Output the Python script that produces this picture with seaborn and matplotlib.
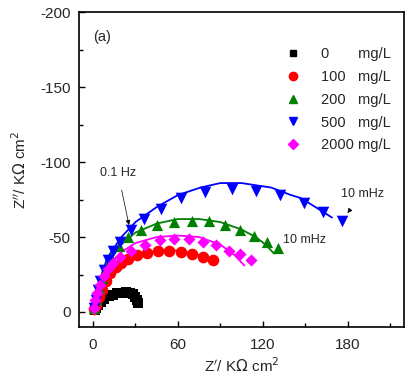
import numpy as np
import pandas as pd
import matplotlib
matplotlib.use("Agg")
import matplotlib.pyplot as plt
from matplotlib.lines import Line2D
import seaborn as sns

# measured points (Z', Z'') in kOhm cm^2
x_0 = [1, 2, 3.5, 5.5, 8, 11, 14, 17, 20, 23, 26, 28.5, 30, 31, 31.5]
y_0 = [-1, -3, -5, -7, -9, -10.5, -11.5, -12.5, -13, -13.5, -13, -12, -10, -8, -6]

x_100 = [0.5, 2, 4, 6, 9, 12, 16, 20, 25, 31, 38, 46, 54, 62, 70, 78, 85]
y_100 = [-2, -5, -10, -15, -21, -26, -30, -33, -35.5, -38, -39.5, -40.7, -41, -40, -39, -37, -35]

x_200 = [0.5, 2, 4, 6, 9, 13, 18, 25, 34, 45, 57, 70, 82, 93, 104, 114, 123, 131]
y_200 = [-3, -9, -16, -23, -30, -37, -44, -50, -55, -58, -60, -61, -61, -58, -55, -51, -47, -43]

x_500 = [0.5, 2, 3.5, 5, 7.5, 10.5, 14, 19, 27, 36, 48, 62, 79, 98, 115, 132, 149, 163, 176]
y_500 = [-3, -8, -15, -21, -28, -35, -41, -47, -55, -62, -69, -76, -80, -82, -81, -78, -73, -67, -61]

x_2000 = [0.5, 1.5, 3, 5, 7.5, 10.5, 14, 19, 27, 37, 47, 57, 68, 78, 87, 96, 104, 112]
y_2000 = [-3, -8, -13, -18, -24, -29, -33, -37, -41, -45, -48, -49, -49, -47, -45, -41, -38.5, -35]

# fitted curves
fx_100 = [0, 5, 10, 20, 30, 45, 60, 75, 82]
fy_100 = [0, -12, -21, -31, -37, -41, -41, -38, -35]
fx_200 = [0, 5, 10, 20, 30, 45, 60, 75, 90, 105, 115, 122, 128]
fy_200 = [0, -20, -32, -45, -53, -59, -62, -62, -60, -55, -50, -45, -39]
fx_500 = [0, 5, 10, 20, 30, 45, 60, 76, 90, 105, 126, 140, 147, 159, 169]
fy_500 = [0, -22, -36, -50, -60, -70, -78, -83, -86, -86, -83, -78, -76, -69, -63]
fx_2000 = [0, 5, 10, 20, 30, 45, 60, 75, 90, 100, 107]
fy_2000 = [0, -19, -30, -40, -46, -50, -51, -50, -45, -38, -31]

labels = ["0       mg/L", "100   mg/L", "200   mg/L", "500   mg/L", "2000 mg/L"]
colors = ["#000000", "#ff0000", "#008000", "#0000ff", "#ff00ff"]
markers = ["s", "o", "^", "v", "D"]
sizes = [45, 70, 65, 70, 38]

pts = [(x_0, y_0), (x_100, y_100), (x_200, y_200), (x_500, y_500), (x_2000, y_2000)]
fits = [None, (fx_100, fy_100), (fx_200, fy_200), (fx_500, fy_500), (fx_2000, fy_2000)]

sns.set_style("ticks")
plt.rcParams['font.family'] = ['Liberation Sans', 'DejaVu Sans']
plt.rcParams['axes.unicode_minus'] = False

fig = plt.figure(figsize=(4.2, 3.8), dpi=100)
ax = fig.add_axes([0.188, 0.1395, 0.774, 0.8285])

for i in range(5):
    if fits[i] is not None:
        fdf = pd.DataFrame({"x": fits[i][0], "y": fits[i][1]})
        sns.lineplot(data=fdf, x="x", y="y", sort=False, color=colors[i], lw=1.3, ax=ax, legend=False)
    df = pd.DataFrame({"x": pts[i][0], "y": pts[i][1]})
    sns.scatterplot(data=df, x="x", y="y", color=colors[i], marker=markers[i], s=sizes[i],
                    linewidth=0, ax=ax, legend=False, zorder=3)

ax.set_xlim(-10, 220)
ax.set_ylim(10, -200)
ax.set_xticks([0, 60, 120, 180])
ax.set_xticks([30, 90, 150, 210], minor=True)
ax.set_yticks([0, -50, -100, -150, -200])
ax.set_yticks([-25, -75, -125, -175], minor=True)
ax.tick_params(which="both", direction="in", labelsize=11, width=1, color="black")
ax.tick_params(which="major", length=4)
ax.tick_params(which="minor", length=3)
ax.tick_params(axis="x", pad=8)
ax.tick_params(axis="y", pad=6)
for s in ax.spines.values():
    s.set_visible(True)
    s.set_linewidth(1.2)
    s.set_color("black")

ax.set_xlabel(r"Z$'$/ K$\Omega$ cm$^2$", fontsize=11, labelpad=3)
ax.set_ylabel(r"Z$''$/ K$\Omega$ cm$^2$", fontsize=11, labelpad=8)

ax.text(0.071, 0.92, "(a)", transform=ax.transAxes, fontsize=10.5, ha="center", va="center")

arrow = dict(arrowstyle="-|>", color="black", lw=0.5, mutation_scale=7)
ax.annotate("0.1 Hz", xy=(25.4, -58), xytext=(17.6, -93), fontsize=9, ha="center", va="center",
            arrowprops=dict(arrow, shrinkA=6, shrinkB=0))
ax.annotate("10 mHz", xy=(180, -66), xytext=(190.6, -79), fontsize=9, ha="center", va="center",
            arrowprops=dict(arrow, shrinkA=6, shrinkB=0))
ax.text(149.6, -48, "10 mHz", fontsize=9, ha="center", va="center")

handles = [Line2D([], [], ls="none", marker=markers[i], color=colors[i], markersize=6 if i in (1, 2, 3) else 5)
           for i in range(5)]
ax.legend(handles, labels, loc="upper right", bbox_to_anchor=(1.0, 0.93), frameon=False,
          fontsize=10.5, handletextpad=1.45, labelspacing=0.6, handlelength=1.0)

fig.savefig("out.png", dpi=100)
